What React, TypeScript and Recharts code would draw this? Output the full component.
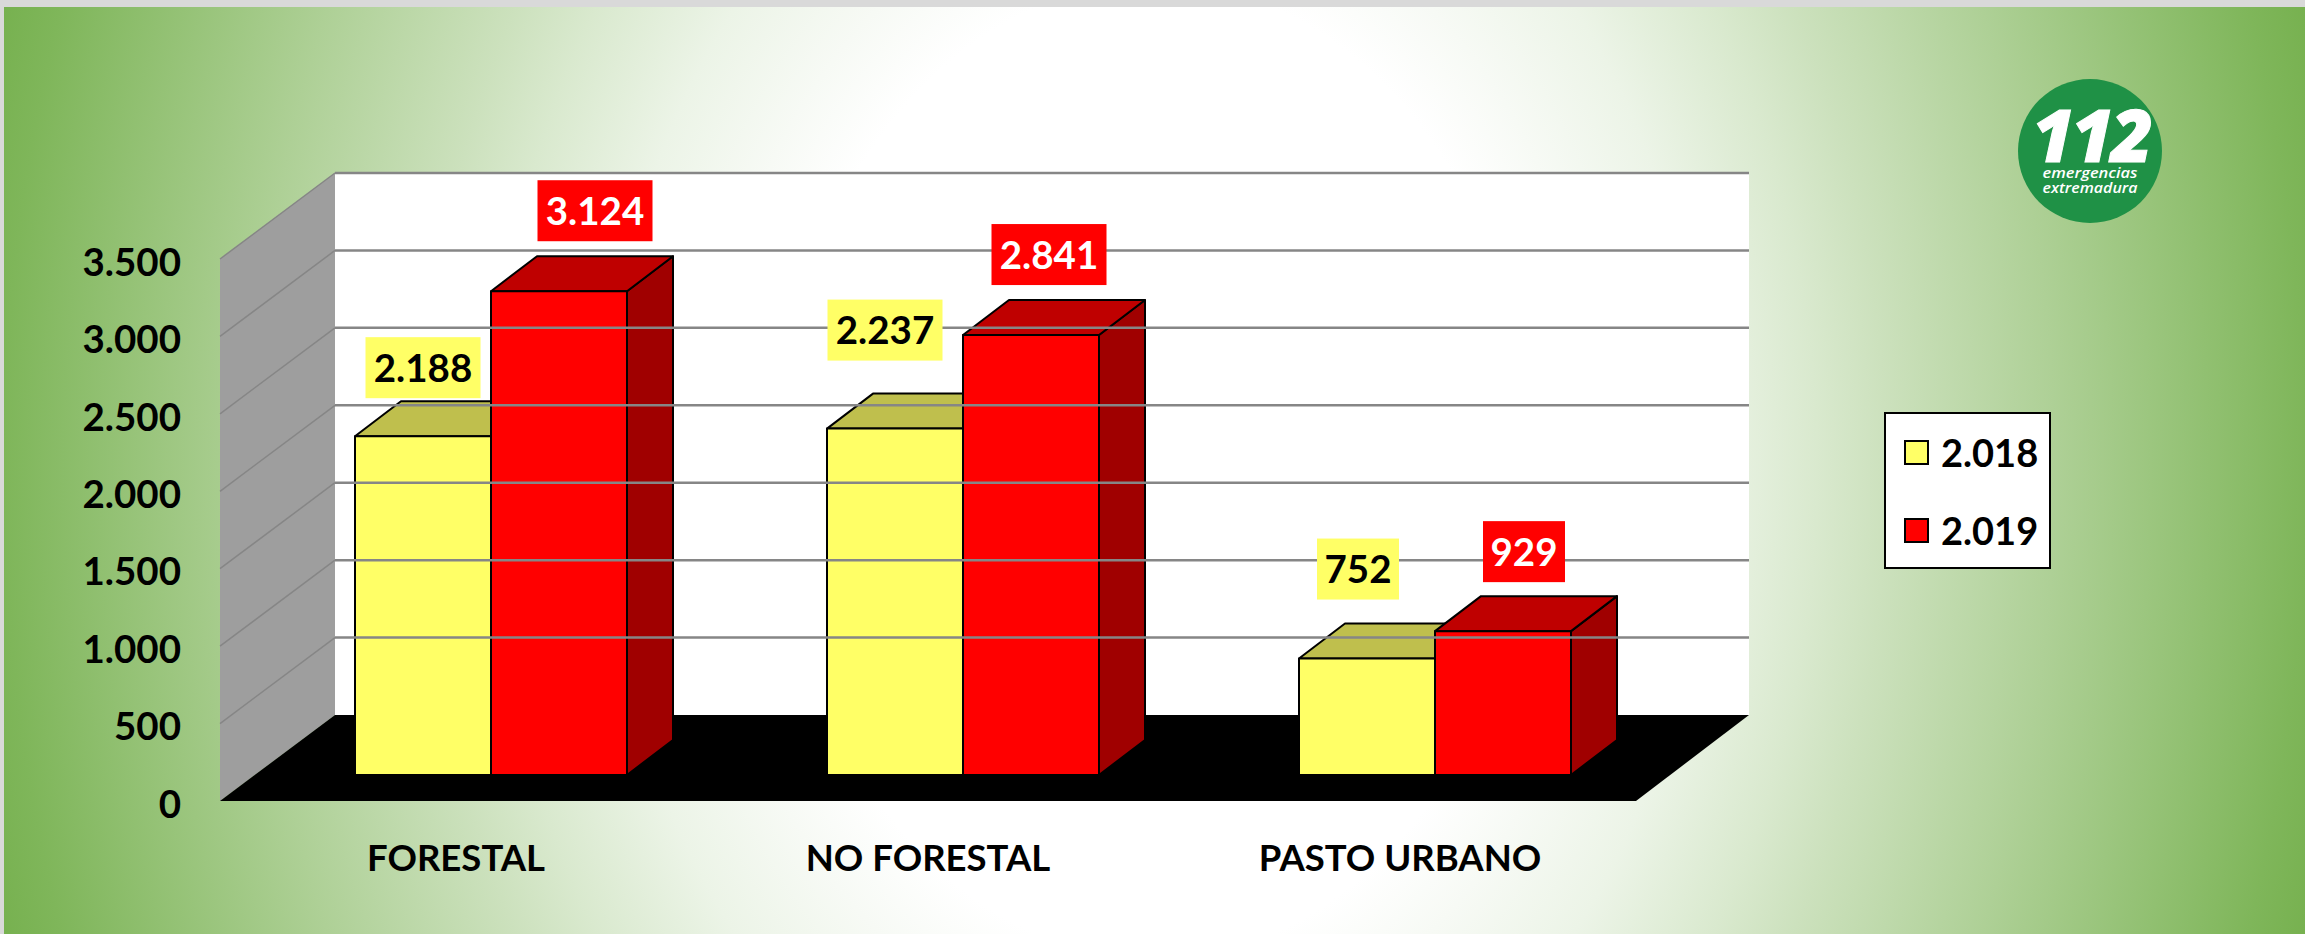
import { BarChart, Bar, XAxis, YAxis, ReferenceArea, ReferenceLine, LabelList, Legend } from 'recharts';

const categories = ['FORESTAL', 'NO FORESTAL', 'PASTO URBANO'];
const values2018 = [2188, 2237, 752];
const values2019 = [3124, 2841, 929];
const yTicks = [0, 500, 1000, 1500, 2000, 2500, 3000, 3500];

// manual label nudges, [dx from bar centre, gap above bar top]
const labelNudge2018 = [[0, 38], [-10, 68], [-9, 59]];
const labelNudge2019 = [[36, 50], [18, 50], [21, 49]];

const data = categories.map((name, i) => ({ name, y2018: values2018[i], y2019: values2019[i] }));

// depth of the fake 3D box
const WALL_DX = 115;
const WALL_DY = -86;
const WALL_TRIM = 2;
const BAR_SHIFT_X = 35;
const BAR_SHIFT_Y = -26;
const BAR_DX = 46;
const BAR_DY = -35;

const FONT = 'Lato, sans-serif';
const fmt = (v: number) => String(v).replace(/\B(?=(\d{3})+$)/g, '.');

const BACKGROUND =
  'radial-gradient(ellipse 1250px 1625px at 50% 50%, #ffffff 30%, #f7faf5 36%, #ecf4e7 44%, #d9e9ce 53%, #cce1bd 58.5%, #aed096 72%, #7fb65a 92%, #70ad47 100%)';

function Room(props: any) {
  const { x, y, width, height } = props;
  const r = x + width;
  const b = y + height;
  return (
    <g>
      <rect x={x + WALL_DX} y={y + WALL_DY} width={width - WALL_TRIM} height={height} fill="#fff" />
      <polygon points={`${x},${y} ${x + WALL_DX},${y + WALL_DY} ${x + WALL_DX},${b + WALL_DY} ${x},${b}`} fill="#9e9e9e" />
      <polygon points={`${x},${b} ${r},${b} ${r + WALL_DX - WALL_TRIM},${b + WALL_DY} ${x + WALL_DX},${b + WALL_DY}`} fill="#000" />
    </g>
  );
}

function GridLine(props: any) {
  const { x1, x2, y1 } = props;
  const isBase = Math.abs(y1 - 801) < 1;
  if (isBase) return null;
  return (
    <g stroke="#868686" fill="none">
      <line x1={x1 + WALL_DX} x2={x2 + WALL_DX - WALL_TRIM} y1={y1 + WALL_DY} y2={y1 + WALL_DY} strokeWidth={2.5} />
      <line x1={x1} x2={x1 + WALL_DX} y1={y1} y2={y1 + WALL_DY} strokeWidth={1.5} />
    </g>
  );
}

function Box3D(props: any) {
  const { x, y, width, height, fill, topFill, sideFill } = props;
  const l = x + BAR_SHIFT_X;
  const t = y + BAR_SHIFT_Y;
  const r = l + width;
  const b = t + height;
  return (
    <g stroke="#000" strokeWidth={2} strokeLinejoin="round">
      <polygon points={`${r},${t} ${r + BAR_DX},${t + BAR_DY} ${r + BAR_DX},${b + BAR_DY} ${r},${b}`} fill={sideFill} />
      <polygon points={`${l},${t} ${l + BAR_DX},${t + BAR_DY} ${r + BAR_DX},${t + BAR_DY} ${r},${t}`} fill={topFill} />
      <rect x={l} y={t} width={width} height={height} fill={fill} />
    </g>
  );
}

const makeLabel = (nudge: number[][], bg: string, color: string) => (props: any) => {
  const { x, y, width, value, index } = props;
  const [dx, gap] = nudge[index];
  const text = fmt(value);
  const w = text.length > 3 ? 115 : 82;
  const h = 61;
  const cx = x + BAR_SHIFT_X + width / 2 + dx;
  const bottom = y + BAR_SHIFT_Y - gap;
  return (
    <g>
      <rect x={cx - w / 2} y={bottom - h} width={w} height={h} fill={bg} />
      <text x={cx} y={bottom - h / 2 + 14} textAnchor="middle" fill={color} fontFamily={FONT} fontWeight={700} fontSize={38.5}>
        {text}
      </text>
    </g>
  );
};

function LegendBox({ payload }: any) {
  return (
    <div style={{ width: 163, height: 153, background: '#fff', border: '2px solid #000', position: 'relative' }}>
      {(payload || []).map((p: any, i: number) => (
        <div key={p.value} style={{ position: 'absolute', left: 18, top: 25 + i * 78, display: 'flex', alignItems: 'center' }}>
          <span style={{ width: 21, height: 21, background: p.color, border: '2px solid #000', display: 'inline-block' }} />
          <span style={{ marginLeft: 12, fontFamily: FONT, fontWeight: 700, fontSize: 38, lineHeight: '26px', color: '#000' }}>{p.value}</span>
        </div>
      ))}
    </div>
  );
}

function Logo() {
  const sans = "'Open Sans', sans-serif";
  return (
    <svg width={160} height={160} style={{ position: 'absolute', left: 2010, top: 71 }}>
      <circle cx={80} cy={80} r={72} fill="#1f9146" />
      <text x={81} y={91} textAnchor="middle" fill="#fff" stroke="#fff" strokeWidth={1} fontFamily={sans} fontWeight={800} fontStyle="italic" fontSize={73} letterSpacing={-3}>
        112
      </text>
      <text x={80} y={107} textAnchor="middle" fill="#fff" fontFamily={sans} fontWeight={600} fontStyle="italic" fontSize={14} textLength={95} lengthAdjust="spacingAndGlyphs">
        emergencias
      </text>
      <text x={80} y={122} textAnchor="middle" fill="#fff" fontFamily={sans} fontWeight={600} fontStyle="italic" fontSize={14} textLength={95} lengthAdjust="spacingAndGlyphs">
        extremadura
      </text>
    </svg>
  );
}

export default function App() {
  return (
    <div style={{ position: 'absolute', left: 0, top: 0, width: 2305, height: 934, overflow: 'hidden', background: '#d9d9d9' }}>
      <div style={{ position: 'absolute', left: 4, top: 7, right: 0, bottom: 0, background: BACKGROUND }} />
      <BarChart
        style={{ position: 'absolute', left: 0, top: 0 }}
        width={2305}
        height={934}
        data={data}
        margin={{ top: 259, right: 669, bottom: 0, left: 0 }}
        barCategoryGap={100}
        barGap={0}
      >
        <ReferenceArea x1="FORESTAL" x2="PASTO URBANO" y1={0} y2={3500} ifOverflow="visible" shape={<Room />} />
        {yTicks.map((t) => (
          <ReferenceLine key={t} y={t} ifOverflow="visible" shape={<GridLine />} />
        ))}
        <XAxis
          dataKey="name"
          height={133}
          axisLine={false}
          tickLine={false}
          tickSize={0}
          tickMargin={44}
          tick={{ fontFamily: FONT, fontWeight: 700, fontSize: 36.5, fill: '#000' }}
        />
        <YAxis
          width={220}
          domain={[0, 3500]}
          ticks={yTicks}
          axisLine={false}
          tickLine={false}
          tickSize={0}
          tickMargin={39}
          tickFormatter={fmt}
          tick={{ fontFamily: FONT, fontWeight: 700, fontSize: 38.5, fill: '#000', dy: 3 }}
        />
        <Legend
          layout="horizontal"
          verticalAlign="middle"
          align="center"
          content={<LegendBox />}
          wrapperStyle={{ position: 'absolute', left: 1884, top: 412, width: 167 }}
        />
        <Bar
          dataKey="y2018"
          name="2.018"
          fill="#ffff66"
          isAnimationActive={false}
          shape={<Box3D topFill="#bfbf4d" sideFill="#bfbf4d" />}
        >
          <LabelList dataKey="y2018" content={makeLabel(labelNudge2018, '#ffff66', '#000')} />
        </Bar>
        <Bar
          dataKey="y2019"
          name="2.019"
          fill="#ff0000"
          isAnimationActive={false}
          shape={<Box3D topFill="#bf0000" sideFill="#a00000" />}
        >
          <LabelList dataKey="y2019" content={makeLabel(labelNudge2019, '#ff0000', '#fff')} />
        </Bar>
      </BarChart>
      <Logo />
    </div>
  );
}
